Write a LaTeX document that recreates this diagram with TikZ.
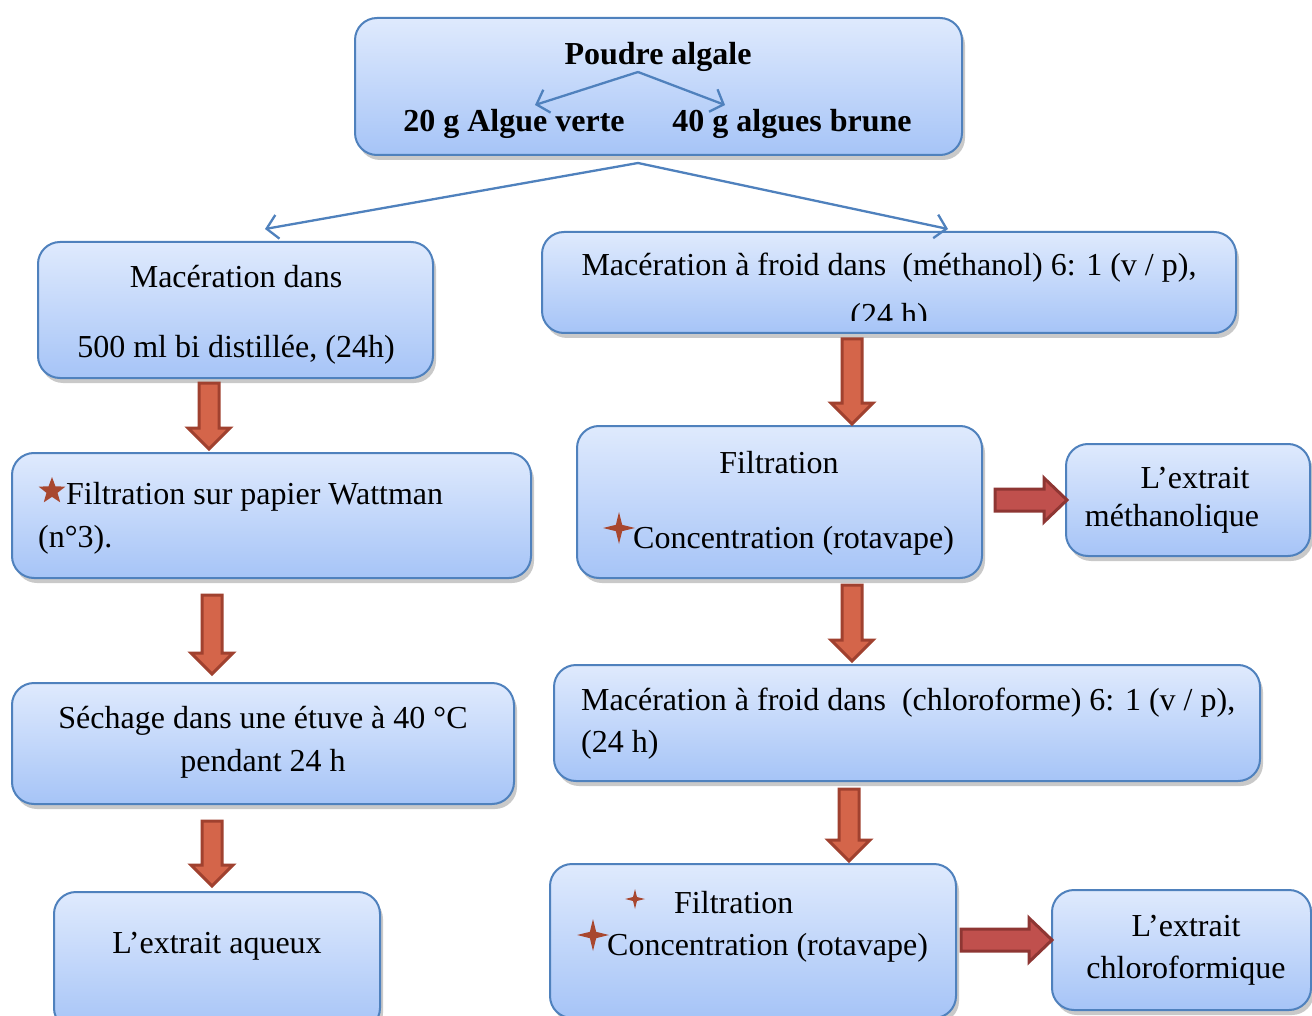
\documentclass[tikz,border=0pt]{standalone}
\usepackage{fontspec}
\setmainfont{Liberation Serif}
\usetikzlibrary{calc,shadows,arrows.meta,shapes.geometric}
\definecolor{boxline}{HTML}{4F81BD}
\definecolor{boxtop}{HTML}{DFEAFD}
\definecolor{boxbot}{HTML}{A6C4F7}
\definecolor{varfill}{HTML}{D4654A}
\definecolor{varline}{HTML}{A0412F}
\definecolor{harfill}{HTML}{C0504D}
\definecolor{harline}{HTML}{8E3633}
\definecolor{starc}{HTML}{A8472F}
\tikzset{
  box/.style={draw=boxline, line width=2pt, rounded corners=22pt,
    top color=boxtop, bottom color=boxbot,
    drop shadow={shadow xshift=3pt, shadow yshift=-5pt, opacity=0.35, fill=black!60},
    inner sep=0pt},
  txt/.style={font=\fontsize{32}{38}\selectfont, inner sep=0pt, anchor=base},
  btxt/.style={txt, font=\fontsize{32}{38}\selectfont\bfseries},
  ltxt/.style={txt, anchor=base west},
  bluearrow/.style={draw=boxline, line width=2.3pt, -{Straight Barb[length=11pt,width=24pt,line width=2.3pt]}},
  vblk/.style={fill=varfill, draw=varline, line width=3pt, line join=miter},
  hblk/.style={fill=harfill, draw=harline, line width=3pt, line join=miter},
  starfive/.style={star, star points=5, star point ratio=2.4, fill=starc, inner sep=0pt},
  starfour/.style={star, star points=4, star point ratio=3.6, fill=starc, inner sep=0pt}
}
% vertical block arrow: x, from node, start gap, to node, tip gap
\newcommand\vblock[5]{%
  \path[vblk] let \p1=(#2.south), \p2=(#4.north) in
   (#1pt-10pt,\y1-#3pt) -- (#1pt+10pt,\y1-#3pt) -- (#1pt+10pt,\y2+#5pt+21pt)
   -- (#1pt+21pt,\y2+#5pt+21pt) -- (#1pt,\y2+#5pt) -- (#1pt-21pt,\y2+#5pt+21pt)
   -- (#1pt-10pt,\y2+#5pt+21pt) -- cycle;}
% horizontal block arrow: y, from node, start gap, to node, tip offset
\newcommand\hblock[5]{%
  \path[hblk] let \p1=(#2.east), \p2=(#4.west) in
   (\x1+#3pt,-#1pt+11pt) -- (\x2+#5pt-23pt,-#1pt+11pt) -- (\x2+#5pt-23pt,-#1pt+22pt)
   -- (\x2+#5pt,-#1pt) -- (\x2+#5pt-23pt,-#1pt-22pt) -- (\x2+#5pt-23pt,-#1pt-11pt)
   -- (\x1+#3pt,-#1pt-11pt) -- cycle;}
\begin{document}
\begin{tikzpicture}[x=1pt,y=-1pt]
\clip (0,0) rectangle (1312,1016);
\fill[white] (0,0) rectangle (1312,1016);
% boxes
\node[box, minimum width=607pt, minimum height=137pt] (T) at (658.5,86.5) {};
\node[box, minimum width=395pt, minimum height=136pt] (L1) at (235.5,310) {};
\node[box, minimum width=694pt, minimum height=101pt] (R1) at (889,282.5) {};
\node[box, minimum width=519pt, minimum height=125pt] (L2) at (271.5,515.5) {};
\node[box, minimum width=502pt, minimum height=121pt] (L3) at (263,743.5) {};
\node[box, minimum width=326pt, minimum height=138pt] (L4) at (217,961) {};
\node[box, minimum width=405pt, minimum height=152pt] (R2) at (779.5,502) {};
\node[box, minimum width=244pt, minimum height=112pt] (R2b) at (1188,500) {};
\node[box, minimum width=706pt, minimum height=116pt] (R3) at (907,723) {};
\node[box, minimum width=406pt, minimum height=154pt] (R4) at (753,941) {};
\node[box, minimum width=259pt, minimum height=120pt] (R4b) at (1181.5,950) {};
% top box text
\node[btxt] (poudre) at (658,65) {Poudre algale};
\node[btxt] (verte) at (514,132) {20 g Algue verte};
\node[btxt] (brune) at (792,132) {40 g algues brune};
\coordinate (pa) at (638,72);
\coordinate (va) at (535,105);
\coordinate (ba) at (725,105);
\draw[bluearrow] (pa) -- (va);
\draw[bluearrow] (pa) -- (ba);
% main split
\coordinate (tb) at ($(T.south)+(-20.5,7)$);
\draw[bluearrow] (tb) -- ($(L1.north)+(29.5,-12)$);
\draw[bluearrow] (tb) -- ($(R1.north)+(59,-2)$);
% texts
\node[txt] at (236,288) {Macération dans};
\node[txt] at (236,357) {500 ml bi distillée, (24h)};
\node[txt] at (889,276) {Macération à froid dans~ (méthanol) 6: 1 (v / p),};
\begin{scope}
\clip (542,232) rectangle (1236,321);
\node[txt] at (889,326) {(24 h)};
\end{scope}
\node[starfive, minimum size=28pt] (st1) at (52,491) {};
\node[ltxt] at (66,504) {Filtration sur papier Wattman};
\node[ltxt] at (38,547) {(n°3).};
\node[txt] at (263,728) {Séchage dans une étuve à 40 °C};
\node[txt] at (263,771) {pendant 24 h};
\node[txt] at (217,953) {L’extrait aqueux};
\node[txt] at (779,473) {Filtration};
\node[starfour, minimum size=32pt] (st2) at (619,528) {};
\node[ltxt] at (633,548) {Concentration (rotavape)};
\node[txt] at (1195,488) {L’extrait};
\node[txt] at (1172,526) {méthanolique};
\node[ltxt] at (581,710) {Macération à froid dans~ (chloroforme) 6: 1 (v / p),};
\node[ltxt] at (581,752) {(24 h)};
\node[starfour, minimum size=20pt] (st3) at (635,899) {};
\node[ltxt] at (674,913) {Filtration};
\node[starfour, minimum size=32pt] (st4) at (593,935) {};
\node[ltxt] at (607,955) {Concentration (rotavape)};
\node[txt] at (1186,936) {L’extrait};
\node[txt] at (1186,978) {chloroformique};
% block arrows
\vblock{209}{L1}{4}{L2}{3}
\vblock{212}{L2}{16}{L3}{8}
\vblock{212}{L3}{16}{L4}{5}
\vblock{852}{R1}{5}{R2}{1}
\vblock{852}{R2}{6}{R3}{3}
\vblock{849}{R3}{7}{R4}{2}
\hblock{500}{R2}{12}{R2b}{2}
\hblock{940}{R4}{4}{R4b}{1}
\end{tikzpicture}
\end{document}
